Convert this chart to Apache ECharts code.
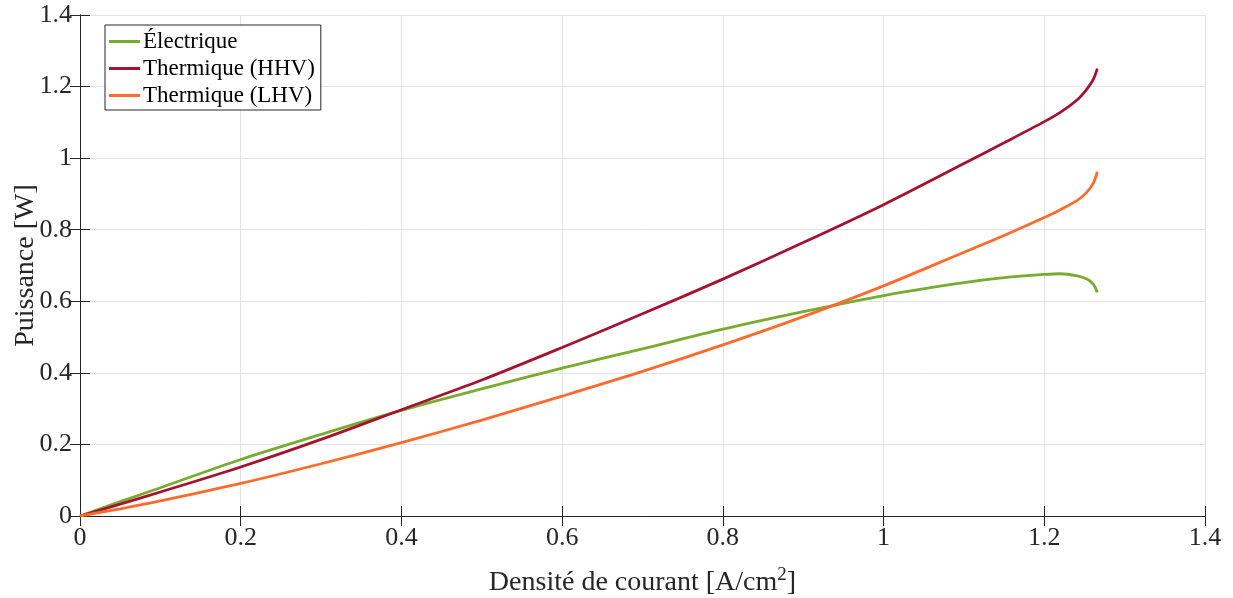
<!DOCTYPE html>
<html>
<head>
<meta charset="utf-8">
<script src="https://cdn.jsdelivr.net/npm/echarts@6/dist/echarts.min.js"></script>
<style>html,body{margin:0;padding:0;background:#fff}#c{width:1233px;height:598px}</style>
</head>
<body>
<div id="c"></div>
<script>
const currentDensity = [0, 0.05, 0.1, 0.2, 0.3, 0.4, 0.5, 0.6, 0.7, 0.8, 0.9, 1.0, 1.1, 1.15, 1.2, 1.22, 1.241, 1.253, 1.261, 1.266];
const electrique    = [0, 0.040, 0.079, 0.158, 0.228, 0.295, 0.355, 0.413, 0.467, 0.522, 0.571, 0.616, 0.652, 0.666, 0.675, 0.677, 0.671, 0.662, 0.648, 0.625];
const thermiqueHHV  = [0, 0.033, 0.067, 0.137, 0.214, 0.297, 0.380, 0.471, 0.565, 0.662, 0.764, 0.870, 0.985, 1.043, 1.102, 1.128, 1.163, 1.193, 1.220, 1.250];
const thermiqueLHV  = [0, 0.020, 0.042, 0.091, 0.146, 0.205, 0.268, 0.335, 0.404, 0.478, 0.557, 0.643, 0.737, 0.784, 0.834, 0.856, 0.882, 0.905, 0.930, 0.962];
const seriesNames = ['Électrique', 'Thermique (HHV)', 'Thermique (LHV)'];
const colors = ['#77AC30', '#A2142F', '#FF6B2C'];

const FONT = 'Liberation Serif';
const pairs = arr => currentDensity.map((x, i) => [x, arr[i]]);
const axisLine = {show: true, lineStyle: {color: '#262626', width: 1}};
const ticks = {show: true, inside: true, length: 10, lineStyle: {color: '#262626'}};

const chart = echarts.init(document.getElementById('c'), null, {renderer: 'canvas'});
chart.setOption({
  animation: false,
  textStyle: {fontFamily: FONT},
  grid: {left: 80, right: 28, top: 15, bottom: 82, containLabel: false, outerBoundsMode: 'none'},
  legend: {
    orient: 'vertical', left: 105, top: 25,
    backgroundColor: '#fff', borderColor: '#262626', borderWidth: 1,
    padding: [5, 6, 3, 4], itemGap: 4,
    icon: 'rect', itemWidth: 31, itemHeight: 3,
    textStyle: {fontFamily: FONT, fontSize: 23, color: '#000', padding: [0, 0, 0, -2]},
    data: seriesNames
  },
  xAxis: [{
    type: 'value', min: 0, max: 1.4, interval: 0.2,
    name: 'Densité de courant [A/cm{sup|2}]', nameLocation: 'middle', nameGap: 50, nameMoveOverlap: false,
    nameTextStyle: {fontFamily: FONT, fontSize: 28, color: '#262626',
      rich: {sup: {fontFamily: FONT, fontSize: 19, color: '#262626', verticalAlign: 'top', padding: [0, 0, 14, 0]}}},
    axisLine: axisLine, axisTick: ticks,
    axisLabel: {fontFamily: FONT, fontSize: 26, color: '#262626', margin: 9},
    splitLine: {show: true, lineStyle: {color: '#e3e3e3', width: 1}}
  }, {
    type: 'value', position: 'top', min: 0, max: 1.4, interval: 0.2,
    axisLine: axisLine, axisTick: ticks, axisLabel: {show: false}, splitLine: {show: false}
  }],
  yAxis: [{
    type: 'value', min: 0, max: 1.4, interval: 0.2,
    name: 'Puissance [W]', nameLocation: 'middle', nameGap: 40, nameMoveOverlap: false,
    nameTextStyle: {fontFamily: FONT, fontSize: 28, color: '#262626'},
    axisLine: axisLine, axisTick: ticks,
    axisLabel: {fontFamily: FONT, fontSize: 26, color: '#262626', margin: 8},
    splitLine: {show: true, lineStyle: {color: '#e3e3e3', width: 1}}
  }, {
    type: 'value', position: 'right', min: 0, max: 1.4, interval: 0.2,
    axisLine: axisLine, axisTick: ticks, axisLabel: {show: false}, splitLine: {show: false}
  }],
  series: [
    {name: seriesNames[0], type: 'line', data: pairs(electrique), showSymbol: false, symbol: 'none', smooth: 0.3, lineStyle: {color: colors[0], width: 2.8}, itemStyle: {color: colors[0]}, z: 3},
    {name: seriesNames[1], type: 'line', data: pairs(thermiqueHHV), showSymbol: false, symbol: 'none', smooth: 0.3, lineStyle: {color: colors[1], width: 2.8}, itemStyle: {color: colors[1]}, z: 4},
    {name: seriesNames[2], type: 'line', data: pairs(thermiqueLHV), showSymbol: false, symbol: 'none', smooth: 0.3, lineStyle: {color: colors[2], width: 2.8}, itemStyle: {color: colors[2]}, z: 5}
  ]
});
</script>
</body>
</html>
